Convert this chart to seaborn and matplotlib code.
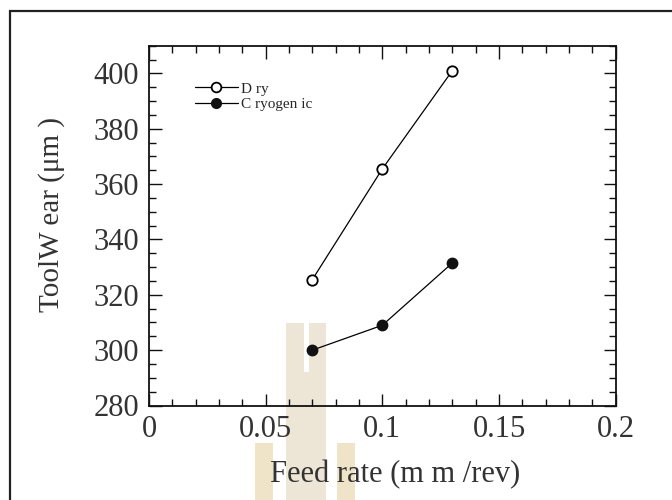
import matplotlib
matplotlib.use("Agg")
import matplotlib.pyplot as plt
import matplotlib.patches as mpatches
from matplotlib.ticker import MultipleLocator, FuncFormatter
import seaborn as sns
import pandas as pd

# ---- data ----
feed_rate = [0.07, 0.10, 0.13]
dry_wear = [325.5, 365.5, 401.0]
cryo_wear = [300.0, 309.0, 331.5]
series_names = ["D ry", "C ryogen ic"]
x_label = "Feed rate (m m /rev)"
y_label = "ToolW ear (\u03bcm )"

sns.set_theme(style="ticks")
plt.rcParams["font.family"] = ["Liberation Serif", "DejaVu Serif"]

fig = plt.figure(figsize=(6.72, 5.0), dpi=100)
fig.patch.set_facecolor("white")

# watermark (background decoration)
wm = "#ede5d5"
wm2 = "#efe4c8"
for (x0, y0, x1, y1, c) in [
    (285.5, 323, 303.5, 500, wm),
    (308.5, 323, 325.5, 500, wm),
    (303.5, 372, 308.5, 500, wm),
    (255, 443, 273, 500, wm2),
    (337, 443, 355, 500, wm2),
]:
    fig.add_artist(mpatches.Rectangle((x0 / 672, 1 - y1 / 500), (x1 - x0) / 672, (y1 - y0) / 500,
                                      transform=fig.transFigure, facecolor=c, edgecolor="none",
                                      zorder=-5))

# outer frame
fig.add_artist(mpatches.Rectangle((10 / 672, -0.1), 1.2, 1.1 - 11 / 500,
                                  transform=fig.transFigure, facecolor="none",
                                  edgecolor="#222222", linewidth=1.6, zorder=-4))

ax = fig.add_axes([149 / 672, 1 - 405.5 / 500, 466.7 / 672, 359.8 / 500])
ax.set_zorder(2)
ax.patch.set_alpha(0)

df = pd.DataFrame({"feed": feed_rate, "dry": dry_wear, "cryo": cryo_wear})
sns.lineplot(data=df, x="feed", y="dry", ax=ax, color="black", linewidth=0.9,
             marker="o", markersize=7.5, markerfacecolor="white", markeredgecolor="black",
             markeredgewidth=1.3, label=series_names[0])
sns.lineplot(data=df, x="feed", y="cryo", ax=ax, color="black", linewidth=0.9,
             marker="o", markersize=7.5, markerfacecolor="#111111", markeredgecolor="#111111",
             markeredgewidth=1.0, label=series_names[1])

ax.set_xlim(0, 0.2)
ax.set_ylim(280, 410)
ax.xaxis.set_major_locator(MultipleLocator(0.05))
ax.xaxis.set_minor_locator(MultipleLocator(0.01))
ax.yaxis.set_major_locator(MultipleLocator(20))
ax.yaxis.set_minor_locator(MultipleLocator(5))
ax.xaxis.set_major_formatter(FuncFormatter(lambda v, p: "0" if abs(v) < 1e-9 else f"{v:g}"))

for s in ax.spines.values():
    s.set_linewidth(1.3)
    s.set_color("#111111")
ax.tick_params(which="both", direction="in", top=True, right=True, colors="#111111")
ax.tick_params(which="major", length=9, width=1.0, labelsize=22, pad=7, labelcolor="#333333")
ax.tick_params(which="minor", length=5, width=1.0)

ax.set_xlabel(x_label, fontsize=22, color="#333333")
ax.set_ylabel(y_label, fontsize=21, color="#333333")
ax.xaxis.set_label_coords(0.528, -0.15)
ax.yaxis.set_label_coords(-0.18, 0.53)

leg = ax.legend(loc="upper left", bbox_to_anchor=(0.085, 0.916), frameon=False, fontsize=11,
                handlelength=2.8, handletextpad=0.25, labelspacing=0.1, borderaxespad=0)
for h in leg.legend_handles:
    h.set_markersize(7)

fig.savefig("out.png", dpi=100, facecolor="white")
